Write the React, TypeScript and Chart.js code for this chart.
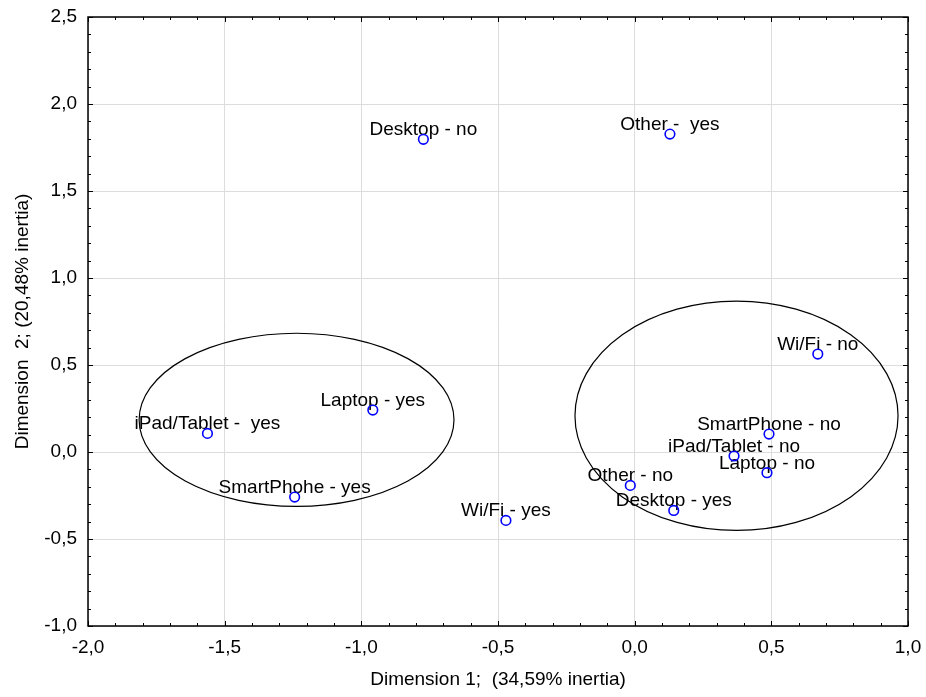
import React, { useEffect, useRef } from "react";
import { Chart, registerables } from "chart.js";

Chart.register(...registerables);

const pointLabels = [
  "Desktop - no",
  "Other -  yes",
  "Wi/Fi - no",
  "Laptop - yes",
  "iPad/Tablet -  yes",
  "SmartPhone - no",
  "iPad/Tablet - no",
  "Laptop - no",
  "Other - no",
  "SmartPhohe - yes",
  "Desktop - yes",
  "Wi/Fi - yes",
];
const dim1 = [-0.773, 0.129, 0.67, -0.958, -1.563, 0.4915, 0.3635, 0.484, -0.016, -1.244, 0.143, -0.471];
const dim2 = [1.797, 1.827, 0.563, 0.241, 0.107, 0.103, -0.023, -0.119, -0.192, -0.259, -0.336, -0.393];

// ellipses: centre x, centre y, radius x, radius y (data units)
const ellipseCx = [-1.237, 0.3726];
const ellipseCy = [0.185, 0.208];
const ellipseRx = [0.576, 0.591];
const ellipseRy = [0.4975, 0.659];

const xTitle = "Dimension 1;  (34,59% inertia)";
const yTitle = "Dimension  2; (20,48% inertia)";

const FONT = "Arial, 'Liberation Sans', sans-serif";

const fmt = (v: number) => v.toFixed(1).replace(".", ",");

const decorPlugin = {
  id: "decor",
  beforeDatasetsDraw(chart: any) {
    const { ctx, chartArea, scales } = chart;
    const xs = scales.x;
    const ys = scales.y;
    ctx.save();
    ctx.beginPath();
    ctx.rect(chartArea.left, chartArea.top, chartArea.right - chartArea.left, chartArea.bottom - chartArea.top);
    ctx.clip();
    // ellipses
    ctx.strokeStyle = "#000";
    ctx.lineWidth = 1.2;
    for (let i = 0; i < ellipseCx.length; i++) {
      const cx = xs.getPixelForValue(ellipseCx[i]);
      const cy = ys.getPixelForValue(ellipseCy[i]);
      const rx = Math.abs(xs.getPixelForValue(ellipseCx[i] + ellipseRx[i]) - cx);
      const ry = Math.abs(ys.getPixelForValue(ellipseCy[i] + ellipseRy[i]) - cy);
      ctx.beginPath();
      ctx.ellipse(cx, cy, rx, ry, 0, 0, Math.PI * 2);
      ctx.stroke();
    }
    // labels
    ctx.fillStyle = "#000";
    ctx.font = "19px " + FONT;
    ctx.textAlign = "center";
    ctx.textBaseline = "alphabetic";
    for (let i = 0; i < pointLabels.length; i++) {
      const px = xs.getPixelForValue(dim1[i]);
      const py = ys.getPixelForValue(dim2[i]);
      ctx.fillText(pointLabels[i], px, py - 4);
    }
    ctx.restore();
  },
  afterDraw(chart: any) {
    const { ctx, chartArea, scales } = chart;
    const xs = scales.x;
    const ys = scales.y;
    const { left, right, top, bottom } = chartArea;
    ctx.save();
    ctx.strokeStyle = "#000";
    ctx.lineWidth = 1;
    ctx.beginPath();
    // minor/major ticks every 0.1
    for (let k = -20; k <= 10; k++) {
      const v = k / 10;
      const p = Math.round(xs.getPixelForValue(v)) + 0.5;
      const len = k % 5 === 0 ? 5 : 3;
      ctx.moveTo(p, bottom);
      ctx.lineTo(p, bottom - len);
      ctx.moveTo(p, top);
      ctx.lineTo(p, top + len);
    }
    for (let k = -10; k <= 25; k++) {
      const v = k / 10;
      const p = Math.round(ys.getPixelForValue(v)) + 0.5;
      const len = k % 5 === 0 ? 5 : 3;
      ctx.moveTo(left, p);
      ctx.lineTo(left + len, p);
      ctx.moveTo(right, p);
      ctx.lineTo(right - len, p);
    }
    ctx.stroke();
    ctx.lineWidth = 1.5;
    ctx.strokeRect(left, top, right - left, bottom - top);
    ctx.restore();
  },
};

export default function App() {
  const ref = useRef<HTMLCanvasElement | null>(null);
  useEffect(() => {
    if (!ref.current) return;
    const data = dim1.map((x, i) => ({ x, y: dim2[i] }));
    const chart = new Chart(ref.current, {
      type: "scatter",
      data: {
        datasets: [
          {
            data,
            pointRadius: 4.8,
            pointBorderWidth: 1.6,
            pointBorderColor: "#0000ff",
            pointBackgroundColor: "rgba(255,255,255,0)",
            showLine: false,
          },
        ],
      },
      options: {
        animation: false,
        responsive: true,
        maintainAspectRatio: false,
        layout: { padding: { left: 0, right: 18, top: 17, bottom: 0 } },
        plugins: { legend: { display: false }, tooltip: { enabled: false } },
        scales: {
          x: {
            type: "linear",
            min: -2,
            max: 1,
            afterFit: (s: any) => {
              s.height = 71;
              s.paddingLeft = 0;
              s.paddingRight = 0;
              s.paddingTop = 0;
              s.paddingBottom = 0;
            },
            ticks: {
              stepSize: 0.5,
              callback: (v: any) => fmt(Number(v)),
              color: "#000",
              font: { family: FONT, size: 19 },
              padding: 10,
              maxRotation: 0,
            },
            grid: { color: "#dcdcdc", drawTicks: false },
            border: { display: false },
            title: {
              display: true,
              text: xTitle,
              color: "#000",
              font: { family: FONT, size: 19 },
              padding: { top: 4, bottom: 6 },
            },
          },
          y: {
            type: "linear",
            min: -1,
            max: 2.5,
            afterFit: (s: any) => {
              s.width = 88;
              s.paddingLeft = 0;
              s.paddingRight = 0;
              s.paddingTop = 0;
              s.paddingBottom = 0;
            },
            ticks: {
              stepSize: 0.5,
              callback: (v: any) => fmt(Number(v)),
              color: "#000",
              font: { family: FONT, size: 19 },
              padding: 11,
            },
            grid: { color: "#dcdcdc", drawTicks: false },
            border: { display: false },
            title: {
              display: true,
              text: yTitle,
              color: "#000",
              font: { family: FONT, size: 19 },
              padding: { top: 11, bottom: 4 },
            },
          },
        },
      },
      plugins: [decorPlugin],
    });
    return () => chart.destroy();
  }, []);
  return (
    <div style={{ position: "fixed", left: 0, top: 0, width: 926, height: 697, background: "#fff" }}>
      <canvas ref={ref} />
    </div>
  );
}
